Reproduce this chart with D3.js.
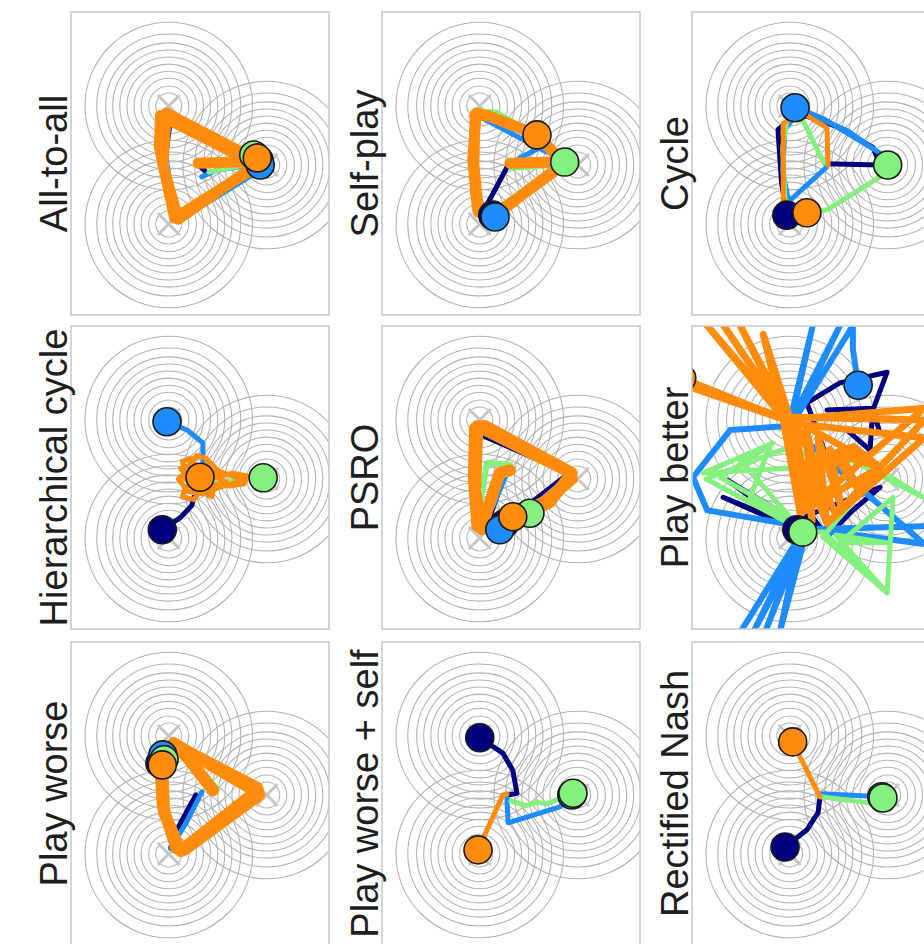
<!DOCTYPE html>
<html>
<head>
<meta charset="utf-8">
<script src="https://cdn.jsdelivr.net/npm/d3@7"></script>
<style>
    body { margin: 0; background: #fff; }
    #chart { width: 924px; height: 944px; overflow: hidden; }
    .panel-label { font-family: "Liberation Sans", Arial, sans-serif; font-size: 38px; fill: #1e1e1e; }
</style>
</head>
<body>
<div id="chart"></div>
<script>
// panel titles, row by row
const panelNames = ["All-to-all", "Self-play", "Cycle",
    "Hierarchical cycle", "PSRO", "Play better",
    "Play worse", "Play worse + self", "Rectified Nash"];

const agents = ["navy", "blue", "green", "orange"];

// three attractors + their contour radii (same for every panel)
const centers = [[-0.58, 1.0], [-0.58, -1.0], [1.08, 0.0]];
const contourRadii = [0.22, 0.34, 0.47, 0.59, 0.71, 0.83, 0.95, 1.07, 1.22, 1.42];

// trajectories per panel, last point = where the agent ends up
const allToAll = {
    navy: [[0.05, -0.12], [-0.05, -0.02], [0.85, 0.05], [-0.55, 0.78], [-0.64, 0.1], [-0.45, -0.86], [0.85, -0.1], [0.95, 0.08]],
    blue: [[-0.02, -0.2], [0.2, -0.1], [0.78, 0.0], [-0.6, 0.8], [-0.64, 0.2], [-0.45, -0.96], [0.82, -0.18], [0.97, 0.0]],
    green: [[0.1, -0.12], [0.8, 0.02], [-0.6, 0.88], [-0.66, 0.2], [-0.46, -0.86], [0.8, -0.06], [0.86, 0.17]],
    orange: [[-0.08, 0.03], [0.8, 0.06], [-0.72, 0.84], [-0.74, 0.3], [-0.48, -0.9], [0.82, -0.08], [0.88, 0.1],
        [-0.62, 0.88], [-0.68, 0.0], [-0.42, -0.92], [0.84, -0.04], [0.92, 0.12]]
};

const selfPlay = {
    navy: [[-0.07, 0.05], [-0.44, -0.64], [-0.36, -0.85]],
    blue: [[0.1, 0.12], [0.45, 0.3], [0.55, 0.22], [-0.66, 0.86], [-0.7, -0.5], [-0.32, -0.88]],
    green: [[-0.05, -0.06], [0.75, 0.0], [-0.4, -0.82], [-0.66, -0.6], [-0.66, 0.92], [-0.3, 0.9], [0.5, 0.42], [0.86, 0.05]],
    orange: [[-0.07, 0.03], [0.72, 0.05], [0.8, 0.0], [-0.35, -0.88], [-0.6, -0.8], [-0.68, 0.0], [-0.66, 0.86],
        [-0.45, 0.84], [0.39, 0.51], [0.78, 0.1], [0.78, -0.04], [-0.35, -0.86], [-0.62, -0.75], [-0.7, 0.1],
        [-0.64, 0.88], [-0.4, 0.82], [0.39, 0.51]]
};

const cycle = {
    navy: [[0.03, 0.02], [0.95, 0.0], [0.83, 0.3], [0.2, 0.66], [-0.45, 0.88], [-0.78, 0.6], [-0.72, -0.3], [-0.63, -0.85]],
    blue: [[0.05, -0.03], [-0.6, -0.62], [-0.7, -0.1], [-0.66, 0.6], [-0.4, 0.95], [0.0, 0.78], [0.95, 0.2], [0.4, 0.58], [-0.49, 0.97]],
    green: [[0.0, 0.03], [-0.36, 0.76], [-0.62, 0.8], [-0.7, 0.3], [-0.66, -0.6], [-0.3, -0.8], [0.05, -0.76], [0.95, -0.2], [1.08, 0.0]],
    orange: [[0.07, 0.0], [0.05, 0.63], [-0.36, 0.88], [-0.69, 0.71], [-0.69, -0.59], [-0.29, -0.81]]
};

const hierCycle = {
    navy: [[-0.15, -0.3], [-0.19, -0.45], [-0.39, -0.66], [-0.69, -0.86]],
    blue: [[0.0, 0.3], [0.0, 0.61], [-0.27, 0.83], [-0.61, 0.97]],
    green: [[0.2, -0.02], [0.34, -0.05], [0.75, 0.02], [1.02, 0.02]],
    orange: [[-0.05, 0.03], [-0.2, 0.35], [-0.35, 0.3], [-0.3, 0.1], [-0.42, 0.0], [-0.3, -0.15], [-0.35, -0.3],
        [-0.15, -0.35], [-0.05, -0.2], [0.15, -0.3], [0.2, -0.1], [0.45, -0.12], [0.7, -0.08], [0.75, 0.05],
        [0.5, 0.1], [0.3, 0.05], [0.2, 0.2], [0.05, 0.35], [-0.1, 0.4], [-0.25, 0.22], [-0.38, 0.18], [-0.2, -0.05],
        [-0.32, -0.2], [0.0, -0.25], [0.25, -0.15], [0.7, -0.02], [0.3, 0.12], [0.1, 0.25], [-0.15, 0.2],
        [-0.3, 0.0], [-0.1, -0.15], [0.1, -0.05], [0.2, 0.1], [0.0, 0.15], [-0.2, 0.1], [-0.15, -0.1],
        [0.05, -0.15], [0.4, -0.05], [0.1, 0.08], [-0.05, 0.03]]
};

const psro = {
    navy: [[-0.2, 0.0], [-0.4, -0.6], [-0.58, -0.75], [-0.66, 0.8], [0.95, 0.1], [-0.15, -0.75]],
    blue: [[-0.15, 0.05], [-0.36, -0.45], [-0.56, -0.8], [-0.68, 0.0], [-0.6, 0.92], [0.98, 0.08], [0.3, -0.5], [-0.24, -0.86]],
    green: [[-0.07, 0.24], [-0.46, 0.27], [-0.6, -0.6], [-0.66, 0.9], [0.98, 0.05], [0.27, -0.58]],
    orange: [[-0.07, 0.15], [-0.24, 0.1], [-0.53, -0.75], [-0.62, -0.8], [-0.68, 0.0], [-0.66, 0.86], [-0.5, 0.9],
        [0.95, 0.12], [0.98, 0.0], [0.5, -0.4], [-0.55, -0.85], [-0.66, -0.2], [-0.62, 0.9], [0.98, 0.1],
        [0.6, -0.4], [-0.02, -0.64]]
};

const playBetter = {
    navy: [[0.05, 1.17], [0.83, 1.2], [0.78, 0.49], [0.39, 0.83], [0.95, 0.78], [0.83, 1.17], [1.07, 1.81],
        [0.27, 1.63], [-0.29, 1.29], [0.0, 0.5], [-0.3, -0.5], [0.05, -0.98], [0.49, -0.53], [0.95, -0.14],
        [-0.5, -0.7], [-1.64, -0.02], [-0.63, -0.75], [-1.71, -0.31], [-0.46, -0.86]],
    blue: [[-0.6, 0.9], [-1.59, 0.83], [-2.22, 0.03], [-1.98, -0.53], [-0.69, -0.75], [-0.36, -0.9],
        [-1.42, -2.6], [-0.4, -0.95], [-0.75, -2.6], [-0.3, -0.9], [-1.2, -2.6], [-0.35, -0.85], [-1.0, -2.6],
        [-0.3, -0.85], [1.7, -0.8], [-0.2, -0.85], [1.7, -1.1], [-0.6, 0.9], [-0.19, 2.6], [-0.55, 1.0],
        [0.27, 2.6], [-0.5, 1.0], [0.49, 2.6], [0.49, 2.2], [0.58, 1.59]],
    green: [[-0.3, 0.2], [-2.05, 0.1], [-0.86, 0.61], [-1.76, 0.03], [-0.58, -0.64], [-1.42, 0.32], [-0.9, 0.6],
        [-1.25, -0.31], [-0.5, -0.8], [-2.0, 0.0], [-0.7, 0.5], [0.5, 0.3], [1.68, -0.31], [0.95, 0.15],
        [-0.02, -0.98], [1.07, -1.93], [1.17, -0.31], [0.27, -1.08], [1.07, -1.08], [0.2, -0.95], [1.07, -1.93],
        [0.0, -0.9], [-0.36, -0.9]],
    orange: [[0.0, 0.3], [-0.4, -0.6], [1.7, 1.2], [-0.69, 1.0], [0.05, -0.75], [1.7, 0.7], [-0.6, 0.95],
        [-0.41, -0.58], [0.95, 0.2], [-0.5, 1.0], [0.2, -0.6], [1.7, 1.0], [-0.7, 1.05],
        [-0.4, -0.6], [-0.5, 0.9], [-0.2, -0.7], [-0.3, 0.85], [0.05, -0.75], [-0.1, 0.7], [0.3, -0.5],
        [0.1, 0.5], [0.6, -0.2], [0.3, 0.4], [0.95, 0.2], [0.5, 0.55], [-0.2, 0.3], [-0.3, -0.3],
        [-0.7, 1.05], [-1.98, 2.6], [-0.6, 1.0], [-1.7, 2.6], [-0.62, 1.0],
        [-1.42, 2.6], [-0.55, 0.95], [-1.03, 2.45], [-0.7, 1.1], [-0.3, -0.5], [-0.7, 1.05], [-2.25, 1.55],
        [-0.65, 1.0], [-2.41, 1.71]]
};

const playWorse = {
    navy: [[-0.12, 0.0], [-0.45, -0.6], [-0.55, -0.9], [-0.3, -0.98], [0.95, 0.05], [0.98, 0.1], [-0.5, 0.88], [-0.73, 0.54]],
    blue: [[-0.02, 0.05], [-0.3, -0.5], [-0.55, -0.9], [-0.35, -0.95], [0.9, 0.0], [-0.5, 0.9], [-0.68, 0.68]],
    green: [[0.25, 0.1], [-0.25, 0.68], [-0.48, 0.92], [0.95, 0.1], [-0.35, -0.88], [-0.68, -0.2], [-0.66, 0.6]],
    orange: [[0.17, 0.08], [-0.27, 0.64], [-0.5, 0.86], [0.92, 0.12], [0.95, 0.0], [-0.3, -0.92], [-0.45, -0.9],
        [-0.68, -0.2], [-0.72, 0.4], [-0.5, 0.88], [0.9, 0.06], [-0.38, -0.95], [-0.66, -0.3], [-0.69, 0.51]]
};

const playWorseSelf = {
    navy: [[-0.1, 0.0], [0.05, 0.03], [-0.02, 0.42], [-0.19, 0.71], [-0.58, 0.97]],
    blue: [[-0.12, -0.05], [-0.1, -0.47], [0.78, -0.2], [0.98, 0.0]],
    green: [[-0.05, -0.1], [0.2, -0.18], [0.4, -0.12], [0.55, -0.15], [0.73, -0.08], [1.0, 0.03]],
    orange: [[-0.12, 0.02], [-0.19, 0.0], [-0.61, -0.93]]
};

const rectifiedNash = {
    navy: [[-0.07, -0.05], [-0.1, -0.3], [-0.29, -0.59], [-0.66, -0.88]],
    blue: [[-0.05, 0.02], [0.98, -0.03]],
    green: [[-0.05, -0.03], [0.9, -0.15], [1.0, -0.05]],
    orange: [[-0.07, -0.03], [-0.53, 0.9]]
};

const panelData = [allToAll, selfPlay, cycle, hierCycle, psro, playBetter, playWorse, playWorseSelf, rectifiedNash];

/* * * * * * * * * * * * * *
*        DiscVis          *
* * * * * * * * * * * * * */

const agentColor = {navy: "#00007e", blue: "#1e8cff", green: "#84f07e", orange: "#ff8c0c"};
// line widths per panel (navy, blue, green, orange)
const lineWidths = [[5, 5, 5, 11], [5, 5, 5, 11], [5, 5, 5, 5], [5, 5, 4, 5], [6, 6, 6, 12],
    [5, 6, 5, 7], [5, 5, 5, 12], [5, 5, 5, 5], [5, 5, 5, 5]];

class DiscVis {
    constructor(_svg, _index, _name, _traj) {
        this.svg = _svg;
        this.index = _index;
        this.name = _name;
        this.traj = _traj;
        this.initVis();
    }

    initVis() {
        let vis = this;

        vis.width = 258;
        vis.height = 303;
        vis.left = [71, 382, 692][vis.index % 3];
        vis.top = [12, 326, 642][Math.floor(vis.index / 3)];

        // scales, same unit on both axes
        vis.x = d3.scaleLinear().domain([-2.237, 2.136]).range([vis.left, vis.left + vis.width]);
        vis.y = d3.scaleLinear().domain([2.593, -2.542]).range([vis.top, vis.top + vis.height]);

        vis.g = vis.svg.append("g").attr("class", "panel");

        vis.g.append("clipPath")
            .attr("id", "clip" + vis.index)
            .append("rect")
            .attr("x", vis.left)
            .attr("y", vis.top)
            .attr("width", vis.width)
            .attr("height", vis.height);

        vis.g.append("rect")
            .attr("x", vis.left)
            .attr("y", vis.top)
            .attr("width", vis.width)
            .attr("height", vis.height)
            .attr("fill", "#fff");

        vis.inner = vis.g.append("g").attr("clip-path", `url(#clip${vis.index})`);

        // contour circles
        let rings = [];
        centers.forEach(c => contourRadii.forEach(r => rings.push({c: c, r: r})));
        vis.inner.selectAll(".ring")
            .data(rings)
            .enter().append("circle")
            .attr("class", "ring")
            .attr("cx", d => vis.x(d.c[0]))
            .attr("cy", d => vis.y(d.c[1]))
            .attr("r", d => vis.x(d.r) - vis.x(0))
            .attr("fill", "none")
            .attr("stroke", "#b4b4b4")
            .attr("stroke-width", 1.1);

        // crosses at the attractors
        let s = 11;
        centers.forEach(c => {
            let cx = vis.x(c[0]), cy = vis.y(c[1]);
            [[-1, -1, 1, 1], [-1, 1, 1, -1]].forEach(k => {
                vis.inner.append("line")
                    .attr("x1", cx + k[0] * s).attr("y1", cy + k[1] * s)
                    .attr("x2", cx + k[2] * s).attr("y2", cy + k[3] * s)
                    .attr("stroke", "#c6c6c6")
                    .attr("stroke-width", 3);
            });
        });

        vis.g.append("rect")
            .attr("x", vis.left)
            .attr("y", vis.top)
            .attr("width", vis.width)
            .attr("height", vis.height)
            .attr("fill", "none")
            .attr("stroke", "#c8c8c8")
            .attr("stroke-width", 1.5);

        vis.g.append("text")
            .attr("class", "panel-label")
            .attr("text-anchor", "middle")
            .attr("transform", `translate(${vis.left - 4}, ${vis.top + vis.height / 2}) rotate(-90)`)
            .text(vis.name);

        vis.updateVis();
    }

    updateVis() {
        let vis = this;

        let line = d3.line()
            .x(d => vis.x(d[0]))
            .y(d => vis.y(d[1]));

        agents.forEach((a, i) => {
            vis.inner.append("path")
                .datum(vis.traj[a])
                .attr("d", line)
                .attr("fill", "none")
                .attr("stroke", agentColor[a])
                .attr("stroke-width", lineWidths[vis.index][i])
                .attr("stroke-linejoin", "round")
                .attr("stroke-linecap", "round");
        });

        // end positions
        vis.inner.selectAll(".end")
            .data(agents)
            .enter().append("circle")
            .attr("class", "end")
            .attr("cx", a => vis.x(vis.traj[a][vis.traj[a].length - 1][0]))
            .attr("cy", a => vis.y(vis.traj[a][vis.traj[a].length - 1][1]))
            .attr("r", 14)
            .attr("fill", a => agentColor[a])
            .attr("stroke", "#1a1a1a")
            .attr("stroke-width", 1.6);
    }
}

let svg = d3.select("#chart").append("svg")
    .attr("width", 924)
    .attr("height", 944);

panelNames.forEach((name, i) => new DiscVis(svg, i, name, panelData[i]));
</script>
</body>
</html>
